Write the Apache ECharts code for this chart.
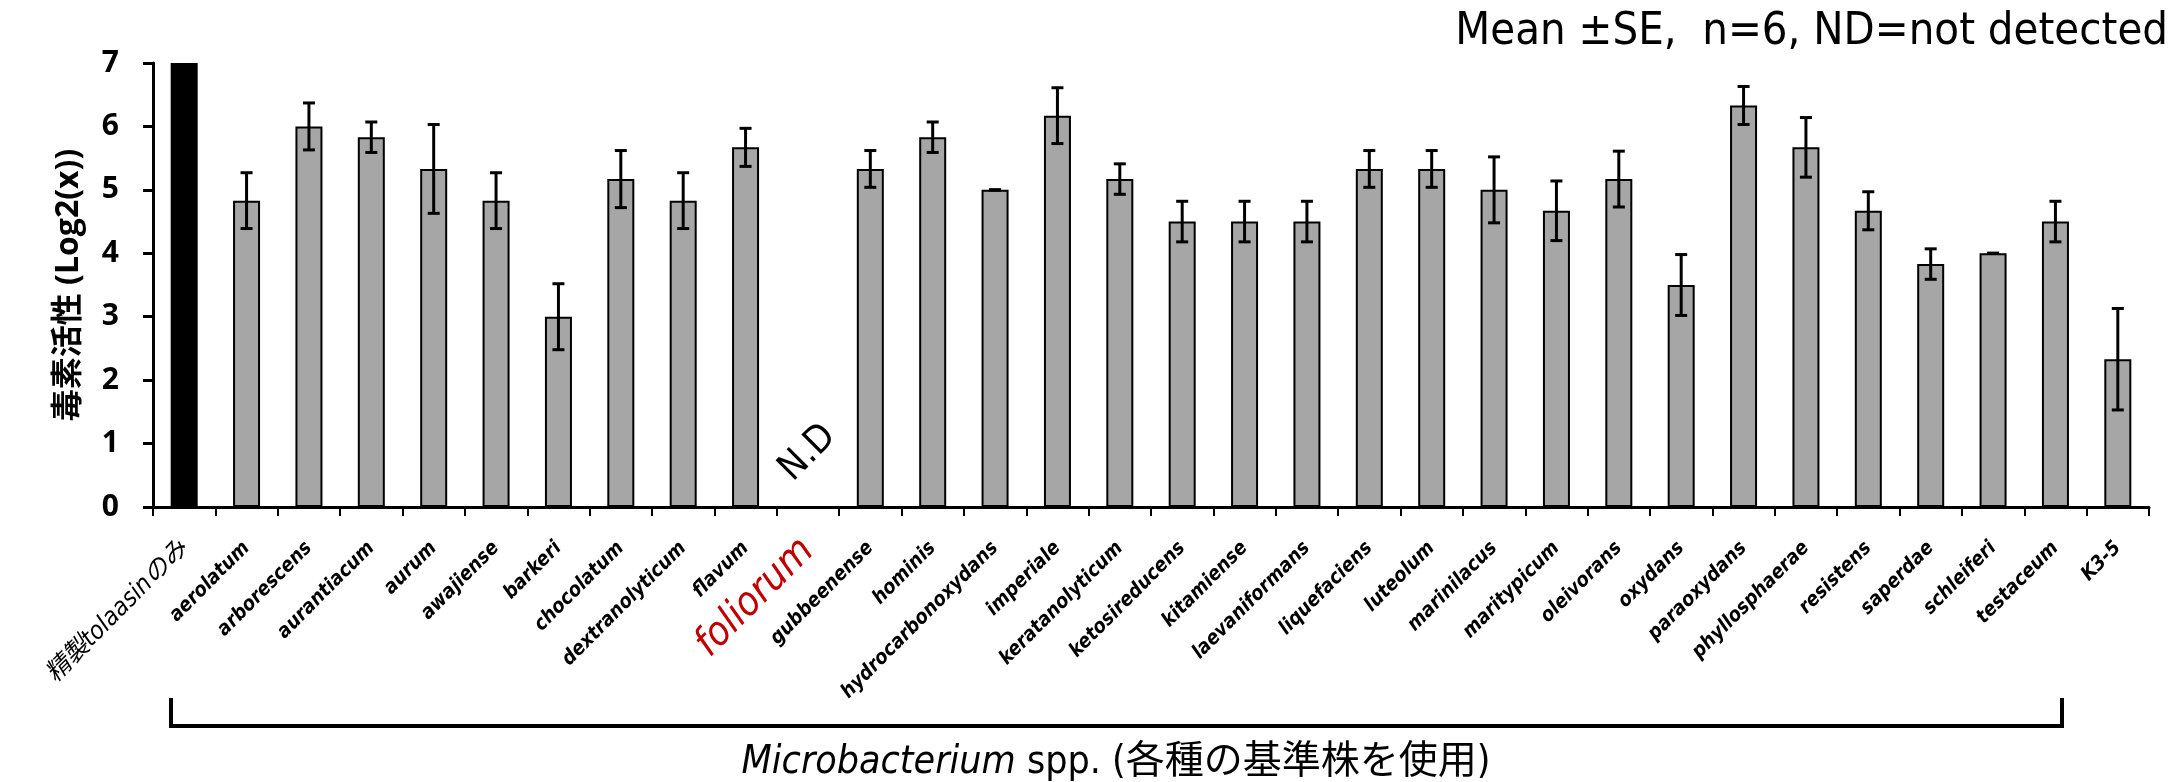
<!DOCTYPE html>
<html>
<head>
<meta charset="utf-8">
<script src="https://cdn.jsdelivr.net/npm/echarts@6/dist/echarts.min.js"></script>
<style>
  html, body { margin: 0; padding: 0; background: #fff; }
  #chart { width: 2172px; height: 782px; }
</style>
</head>
<body>
<div id="chart"></div>
<script>
// Strains tested (first: purified tolaasin alone; last: isolate K3-5)
const categories = [
  '精製tolaasinのみ', 'aerolatum', 'arborescens', 'aurantiacum', 'aurum', 'awajiense',
  'barkeri', 'chocolatum', 'dextranolyticum', 'flavum', 'foliorum', 'gubbeenense',
  'hominis', 'hydrocarbonoxydans', 'imperiale', 'keratanolyticum', 'ketosireducens',
  'kitamiense', 'laevaniformans', 'liquefaciens', 'luteolum', 'marinilacus',
  'maritypicum', 'oleivorans', 'oxydans', 'paraoxydans', 'phyllosphaerae',
  'resistens', 'saperdae', 'schleiferi', 'testaceum', 'K3-5'
];

// Toxin activity, Log2(x), mean of n=6 (null = not detected)
const means = [
  7.00, 4.83, 6.00, 5.83, 5.33, 4.83,
  3.00, 5.17, 4.83, 5.67, null, 5.33,
  5.83, 5.00, 6.17, 5.17, 4.50,
  4.50, 4.50, 5.33, 5.33, 5.00,
  4.67, 5.17, 3.50, 6.33, 5.67,
  4.67, 3.83, 4.00, 4.50, 2.33
];

// Standard error of each mean (null = no error bar drawn)
const errors = [
  null, 0.44, 0.37, 0.24, 0.70, 0.44,
  0.52, 0.45, 0.44, 0.30, null, 0.29,
  0.24, 0.00, 0.44, 0.24, 0.32,
  0.32, 0.32, 0.29, 0.29, 0.52,
  0.47, 0.44, 0.48, 0.30, 0.47,
  0.30, 0.24, 0.00, 0.32, 0.80
];

const yTickValues = [0, 1, 2, 3, 4, 5, 6, 7];
const notDetectedIndex = 10;
const referenceIndex = 0;

const chart = echarts.init(document.getElementById('chart'), null, { renderer: 'canvas' });

const barData = means.map((v, i) => {
  if (i === referenceIndex) {
    return { value: v, itemStyle: { color: '#000000', borderColor: '#000000' } };
  }
  return v;
});

const errData = [];
means.forEach((v, i) => {
  if (v !== null && errors[i] !== null) errData.push([i, v, errors[i]]);
});

function labelFormatter(value, idx) {
  if (idx === referenceIndex) return '{ref|' + value + '}';
  if (idx === notDetectedIndex) return '{nd|' + value + '}';
  return '{sp|' + value + '}';
}

const option = {
  animation: false,
  backgroundColor: '#ffffff',
  grid: { left: 153, right: 23, top: 63, bottom: 275, containLabel: false },
  xAxis: {
    type: 'category',
    data: categories,
    axisLine: { show: true, lineStyle: { color: '#000', width: 3 } },
    axisTick: { show: true, length: 9, lineStyle: { color: '#000', width: 2 } },
    axisLabel: {
      interval: 0,
      rotate: 45,
      margin: 38,
      formatter: labelFormatter,
      rich: {
        sp: { fontFamily: 'DejaVu Sans Condensed', fontWeight: 'bold', fontStyle: 'italic', fontSize: 20, color: '#000' },
        nd: { fontFamily: 'DejaVu Sans Condensed', fontStyle: 'italic', fontSize: 40, color: '#C00000' },
        ref: { fontFamily: 'DejaVu Sans Condensed, Noto Sans CJK JP', fontStyle: 'italic', fontSize: 25, color: '#000' }
      }
    }
  },
  yAxis: {
    type: 'value',
    min: 0,
    max: 7,
    interval: 1,
    name: '毒素活性 (Log2(x))',
    nameLocation: 'middle',
    nameRotate: 90,
    nameGap: 68,
    nameTextStyle: { fontFamily: 'Open Sans, Noto Sans CJK JP', fontWeight: 'bold', fontSize: 32, color: '#000' },
    axisLine: { show: true, lineStyle: { color: '#000', width: 3 } },
    axisTick: { show: true, length: 10, lineStyle: { color: '#000', width: 3 } },
    splitLine: { show: false },
    axisLabel: {
      margin: 34,
      fontFamily: 'Open Sans',
      fontWeight: 'bold',
      fontSize: 30,
      color: '#000',
      formatter: v => (yTickValues.indexOf(v) >= 0 ? String(v) : '')
    }
  },
  series: [
    {
      type: 'bar',
      data: barData,
      barWidth: 27,
      itemStyle: { color: '#A6A6A6', borderColor: '#000', borderWidth: 2 },
      z: 2
    },
    {
      type: 'custom',
      data: errData,
      z: 5,
      renderItem: function (params, api) {
        const i = api.value(0);
        const m = api.value(1);
        const e = api.value(2);
        const top = api.coord([i, m + e]);
        const bot = api.coord([i, m - e]);
        const half = 6;
        const style = { stroke: '#000', lineWidth: 3 };
        return {
          type: 'group',
          children: [
            { type: 'line', shape: { x1: top[0], y1: top[1], x2: bot[0], y2: bot[1] }, style },
            { type: 'line', shape: { x1: top[0] - half, y1: top[1], x2: top[0] + half, y2: top[1] }, style },
            { type: 'line', shape: { x1: bot[0] - half, y1: bot[1], x2: bot[0] + half, y2: bot[1] }, style }
          ]
        };
      }
    }
  ]
};

chart.setOption(option);

// Place the "N.D" note above the empty foliorum slot
const ndPos = chart.convertToPixel({ xAxisIndex: 0, yAxisIndex: 0 }, [notDetectedIndex, 0.85]);

chart.setOption({
  graphic: [
    {
      type: 'text',
      x: ndPos[0], y: ndPos[1],
      rotation: Math.PI / 4,
      style: {
        text: 'N.D',
        fontFamily: 'DejaVu Sans Condensed',
        fontSize: 38,
        fill: '#000',
        align: 'center',
        verticalAlign: 'middle'
      }
    },
    {
      type: 'text',
      right: 4, top: 10,
      style: {
        text: 'Mean ±SE,  n=6, ND=not detected',
        fontFamily: 'DejaVu Sans Condensed',
        fontSize: 45,
        fill: '#000'
      }
    },
    {
      type: 'polyline',
      shape: { points: [[171, 698], [171, 726], [2062, 726], [2062, 698]] },
      style: { stroke: '#000', lineWidth: 4, fill: null }
    },
    {
      type: 'text',
      x: 1116, y: 763,
      style: {
        text: '{it|Microbacterium}{n| spp. (各種の基準株を使用)}',
        align: 'center',
        verticalAlign: 'middle',
        rich: {
          it: { fontFamily: 'DejaVu Sans Condensed', fontStyle: 'italic', fontSize: 39, fill: '#000' },
          n: { fontFamily: 'DejaVu Sans Condensed, Noto Sans CJK JP', fontSize: 39, fill: '#000' }
        }
      }
    }
  ]
});
</script>
</body>
</html>
